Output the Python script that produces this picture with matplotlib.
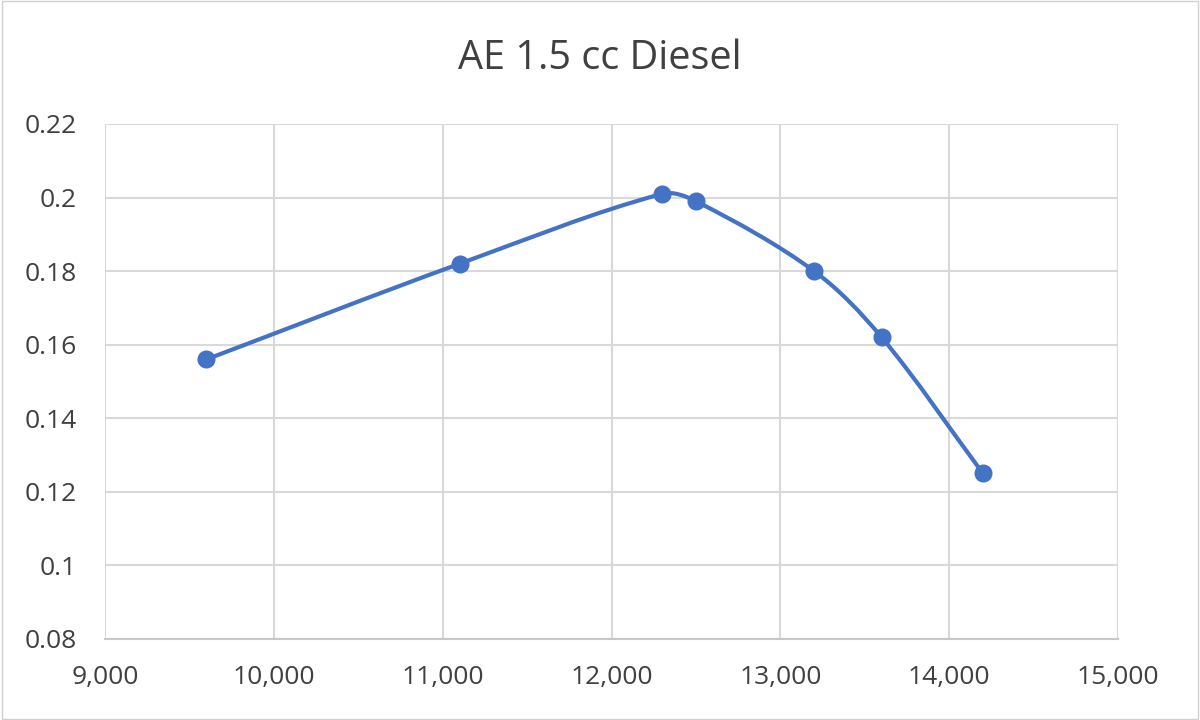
import matplotlib.pyplot as plt
import numpy as np
from matplotlib.path import Path
from matplotlib.patches import PathPatch, Rectangle
from matplotlib.ticker import FuncFormatter, MultipleLocator

# engine speed (rpm) and output (bhp)
rpm = [9600, 11100, 12300, 12500, 13200, 13600, 14200]
bhp = [0.156, 0.182, 0.201, 0.199, 0.180, 0.162, 0.125]

blue = "#4472C4"
text_col = "#404040"
grid_col = "#D9D9D9"

plt.rcParams['font.family'] = ['Open Sans', 'DejaVu Sans']

fig = plt.figure(figsize=(12, 7.2), dpi=100)
fig.patches.append(Rectangle((0.002, 0.002), 0.996, 0.996, transform=fig.transFigure,
                             fill=False, edgecolor="#D0D0D0", linewidth=1))
ax = fig.add_axes([0.0875, 0.1125, 0.8442, 0.7153])
ax.set_xlim(9000, 15000)
ax.set_ylim(0.08, 0.22)

# smoothed line like Excel: bezier segments, tangents scaled by segment length
# (done in pixel space so the uneven spacing doesn't overshoot)
pix = ax.transData.transform(np.column_stack([rpm, bhp]))
n = len(pix)
verts = [pix[0]]
codes = [Path.MOVETO]
for i in range(n - 1):
    p0 = pix[i - 1] if i > 0 else pix[i]
    p1 = pix[i]
    p2 = pix[i + 1]
    p3 = pix[i + 2] if i + 2 < n else pix[i + 1]
    d01 = np.hypot(*(p1 - p0))
    d12 = np.hypot(*(p2 - p1))
    d23 = np.hypot(*(p3 - p2))
    t1 = (p2 - p0) / (d01 + d12) if d01 + d12 > 0 else np.zeros(2)
    t2 = (p3 - p1) / (d12 + d23) if d12 + d23 > 0 else np.zeros(2)
    c1 = p1 + t1 * d12 / 3
    c2 = p2 - t2 * d12 / 3
    verts += [c1, c2, p2]
    codes += [Path.CURVE4] * 3
ax.add_patch(PathPatch(Path(verts, codes), fill=False, edgecolor=blue,
                       linewidth=3, capstyle='round', transform=None, zorder=3))
ax.plot(rpm, bhp, linestyle='none', marker='o', markersize=12,
        color=blue, markeredgecolor=blue, zorder=4)

ax.xaxis.set_major_locator(MultipleLocator(1000))
ax.yaxis.set_major_locator(MultipleLocator(0.02))
ax.xaxis.set_major_formatter(FuncFormatter(lambda v, p: f"{v:,.0f}"))
ax.yaxis.set_major_formatter(FuncFormatter(lambda v, p: f"{round(v, 2):g}"))
ax.grid(True, color=grid_col, linewidth=1.5)
ax.set_axisbelow(True)
for s in ['top', 'right', 'left']:
    ax.spines[s].set_visible(False)
ax.spines['bottom'].set_color("#C8C8C8")
ax.spines['bottom'].set_linewidth(1.5)
ax.tick_params(length=0, labelsize=19, colors=text_col)
ax.tick_params(axis='y', pad=20)
ax.tick_params(axis='x', pad=19)

fig.text(0.5, 0.918, "AE 1.5 cc Diesel", ha='center', va='center',
         fontsize=28.5, color=text_col)

fig.savefig("out.png", dpi=100)
